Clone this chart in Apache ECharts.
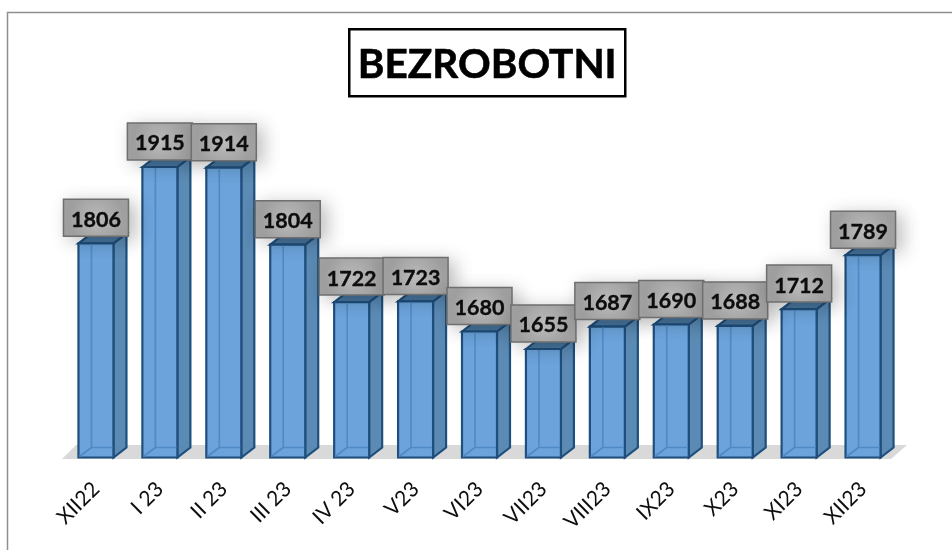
<!DOCTYPE html>
<html>
<head>
<meta charset="utf-8">
<style>
  html, body { margin: 0; padding: 0; background: #fff; }
  #chart { width: 952px; height: 550px; }
</style>
<script src="https://cdn.jsdelivr.net/npm/echarts@6/dist/echarts.min.js"></script>
</head>
<body>
<div id="chart"></div>
<script>
var titleText = 'BEZROBOTNI'
var categories = ['XII22', 'I 23', 'II 23', 'III 23', 'IV 23', 'V23', 'VI23', 'VII23', 'VIII23', 'IX23', 'X23', 'XI23', 'XII23']
var unemployed = [1806, 1915, 1914, 1804, 1722, 1723, 1680, 1655, 1687, 1690, 1688, 1712, 1789]

var font = 'Lato, "Open Sans", sans-serif'
var barWidth = 35
var depthX = 13
var depthY = 10

function poly (points, style) {
  return { type: 'polygon', shape: { points: points }, style: style }
}

// floor under the bars
function renderFloor (params, api) {
  var g = params.coordSys
  var bottom = g.y + g.height + 1.5
  var top = bottom - 14
  return poly([
    [g.x - 2, bottom],
    [g.x + 12, top],
    [g.x + g.width + 12, top],
    [g.x + g.width - 4, bottom]
  ], { fill: '#d9d9d9' })
}

function renderBar (params, api) {
  var top = api.coord([api.value(0), api.value(1)])
  var base = api.coord([api.value(0), 1500])
  var l = top[0] - barWidth / 2
  var r = top[0] + barWidth / 2
  var edge = '#1f4f7d'
  var inner = '#4f8ac6'
  return {
    type: 'group',
    children: [
      poly([[r, top[1]], [r + depthX, top[1] - depthY], [r + depthX, base[1] - depthY], [r, base[1]]], {
        fill: '#5b8ab4', stroke: edge, lineWidth: 2.2
      }),
      poly([[l, top[1]], [l + depthX, top[1] - depthY], [r + depthX, top[1] - depthY], [r, top[1]]], {
        fill: '#47769f', stroke: edge, lineWidth: 2.2
      }),
      { type: 'rect', shape: { x: l, y: top[1], width: barWidth, height: base[1] - top[1] },
        style: { fill: '#6ba3da', stroke: edge, lineWidth: 2.2 } },
      // back edges seen through the front face
      { type: 'polyline', shape: { points: [[l + depthX, top[1] + 1], [l + depthX, base[1] - depthY], [r - 1, base[1] - depthY]] },
        style: { fill: null, stroke: inner, lineWidth: 1.6 } },
      { type: 'line', shape: { x1: l + 1, y1: base[1] - 1, x2: l + depthX, y2: base[1] - depthY },
        style: { stroke: inner, lineWidth: 1.6 } }
    ]
  }
}

function renderLabel (params, api) {
  var top = api.coord([api.value(0), api.value(1)])
  var w = 65
  var h = 37
  var x = top[0] - w / 2
  var y = top[1] - 7 - h
  return {
    type: 'group',
    children: [
      { type: 'rect', shape: { x: x, y: y, width: w, height: h },
        style: {
          fill: new echarts.graphic.RadialGradient(0.5, 0.5, 0.7, [
            { offset: 0, color: '#bcbcbc' },
            { offset: 1, color: '#a2a2a2' }
          ]),
          stroke: '#6f6f6f',
          lineWidth: 1.5,
          shadowBlur: 18,
          shadowOffsetX: 6,
          shadowOffsetY: 4,
          shadowColor: 'rgba(0,0,0,0.25)'
        } },
      { type: 'text',
        style: {
          x: top[0],
          y: y + h / 2 + 2,
          text: String(api.value(1)),
          fill: '#0d0d0d',
          stroke: '#0d0d0d',
          lineWidth: 0.35,
          font: 'bold 21.5px ' + font,
          align: 'center',
          verticalAlign: 'middle'
        } }
    ]
  }
}

var chart = echarts.init(document.getElementById('chart'), null, { renderer: 'canvas' })
var seriesData = categories.map(function (c, i) { return [i, unemployed[i]] })

chart.setOption({
  animation: false,
  backgroundColor: '#fff',
  grid: { left: 64, right: 57, top: 107.5, bottom: 92.5 },
  xAxis: {
    type: 'category',
    data: categories,
    axisLine: { show: false },
    axisTick: { show: false },
    axisLabel: {
      interval: 0,
      rotate: 45,
      margin: 28,
      fontFamily: font,
      fontSize: 21,
      color: '#0d0d0d'
    }
  },
  yAxis: {
    type: 'value',
    min: 1500,
    max: 2000,
    show: false
  },
  graphic: [
    { type: 'polyline', silent: true, shape: { points: [[7.5, 550], [7.5, 12.5], [952, 12.5]] },
      style: { fill: null, stroke: '#8f8f8f', lineWidth: 1.5 } },
    { type: 'group', left: 348, top: 28, children: [
      { type: 'rect', shape: { x: 0, y: 0, width: 276, height: 67 },
        style: { fill: '#fff', stroke: '#000', lineWidth: 2.5 } },
      { type: 'text', style: { x: 138, y: 36, text: titleText, fill: '#000', stroke: '#000', lineWidth: 0.6,
        font: 'bold 40.5px ' + font, align: 'center', verticalAlign: 'middle' } }
    ] }
  ],
  series: [
    { type: 'custom', coordinateSystem: 'cartesian2d', renderItem: renderFloor, data: [[0, 1500]], silent: true, z: 1 },
    { type: 'custom', coordinateSystem: 'cartesian2d', renderItem: renderBar, data: seriesData, silent: true, z: 2, encode: { x: 0, y: 1 } },
    { type: 'custom', coordinateSystem: 'cartesian2d', renderItem: renderLabel, data: seriesData, silent: true, z: 3, encode: { x: 0, y: 1 } }
  ]
})
</script>
</body>
</html>
